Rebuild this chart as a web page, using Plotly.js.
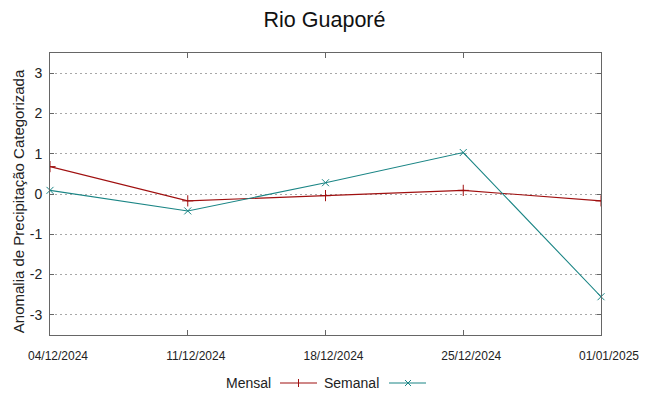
<!DOCTYPE html>
<html>
<head>
<meta charset="utf-8">
<script src="https://cdn.plot.ly/plotly-3.0.1.min.js"></script>
<style>html,body{margin:0;padding:0;background:#fff}#chart{width:649px;height:396px}</style>
</head>
<body>
<div id="chart"></div>
<script>
const dates = ["04/12/2024", "11/12/2024", "18/12/2024", "25/12/2024", "01/01/2025"];
const mensal = [0.68, -0.17, -0.04, 0.09, -0.17];
const semanal = [0.09, -0.42, 0.28, 1.03, -2.55];
const yTicks = [-3, -2, -1, 0, 1, 2, 3];

const red = '#a01010';
const teal = '#1a8585';

const traces = [
  {x: dates, y: mensal, name: 'Mensal', type: 'scatter', mode: 'lines+markers',
   line: {color: red, width: 1.1},
   marker: {symbol: 'cross-thin', size: 8, line: {color: red, width: 1}, color: red},
   showlegend: false, cliponaxis: true},
  {x: dates, y: semanal, name: 'Semanal', type: 'scatter', mode: 'lines+markers',
   line: {color: teal, width: 1.1},
   marker: {symbol: 'x-thin', size: 7, line: {color: teal, width: 1}, color: teal},
   showlegend: false, cliponaxis: false}
];

const W = 551, H = 282, L = 50, T = 53;
const px = v => (v - L) / W;
const py = v => (T + H - v) / H;
const legY = py(383);

const shapes = [
  {type:'line', xref:'paper', yref:'paper', x0:px(280), x1:px(317), y0:legY, y1:legY, line:{color:red, width:1.1}},
  {type:'line', xref:'paper', yref:'paper', x0:px(298.5), x1:px(298.5), y0:py(379), y1:py(387), line:{color:red, width:1}},
  {type:'line', xref:'paper', yref:'paper', x0:px(389), x1:px(426), y0:legY, y1:legY, line:{color:teal, width:1.1}},
  {type:'line', xref:'paper', yref:'paper', x0:px(405), x1:px(411), y0:py(380), y1:py(386), line:{color:teal, width:1}},
  {type:'line', xref:'paper', yref:'paper', x0:px(405), x1:px(411), y0:py(386), y1:py(380), line:{color:teal, width:1}}
];

const annotations = [
  {text:'Anomalia de Precipitação Categorizada', xref:'paper', yref:'paper', x:px(18.5), y:py(201.7),
   textangle:-90, showarrow:false, xanchor:'center', yanchor:'middle',
   font:{family:'Liberation Sans, Arial, sans-serif', size:15, color:'#222'}},
  {text:'Mensal', xref:'paper', yref:'paper', x:px(273), y:legY, xanchor:'right', yanchor:'middle', showarrow:false,
   font:{family:'Liberation Sans, Arial, sans-serif', size:14, color:'#222'}},
  {text:'Semanal', xref:'paper', yref:'paper', x:px(381), y:legY, xanchor:'right', yanchor:'middle', showarrow:false,
   font:{family:'Liberation Sans, Arial, sans-serif', size:14, color:'#222'}}
];

const layout = {
  width: 649, height: 396,
  margin: {l: L, r: 649 - L - W, t: T, b: 396 - T - H, pad: 0},
  paper_bgcolor: '#fff', plot_bgcolor: '#fff',
  title: {text: 'Rio Guaporé', x: 0.5, xanchor: 'center', y: 0.952, yanchor: 'middle',
          font: {family: 'Liberation Sans, Arial, sans-serif', size: 21.5, color: '#111'}},
  showlegend: false,
  xaxis: {type: 'category', range: [0, dates.length - 1], tickvals: dates, ticktext: dates,
          showgrid: false, zeroline: false,
          showline: true, mirror: 'ticks', linecolor: '#666', linewidth: 1,
          ticks: 'inside', ticklen: 5, tickcolor: '#666',
          ticklabelshift: 8, ticklabelstandoff: 10,
          tickfont: {family: 'Liberation Sans Narrow, Arial Narrow, Liberation Sans, sans-serif', size: 12, color: '#222'}},
  yaxis: {range: [-3.5, 3.5], tickvals: yTicks, ticktext: yTicks.map(String),
          showgrid: true, gridcolor: '#a8a8a8', griddash: '2px,3px', gridwidth: 1, zeroline: false,
          showline: true, mirror: 'ticks', linecolor: '#666', linewidth: 1,
          ticks: 'inside', ticklen: 4, tickcolor: '#666', ticklabelstandoff: 4,
          tickfont: {family: 'Liberation Sans, Arial, sans-serif', size: 14, color: '#222'}},
  shapes: shapes,
  annotations: annotations
};

Plotly.newPlot('chart', traces, layout, {staticPlot: true, displayModeBar: false});
</script>
</body>
</html>
